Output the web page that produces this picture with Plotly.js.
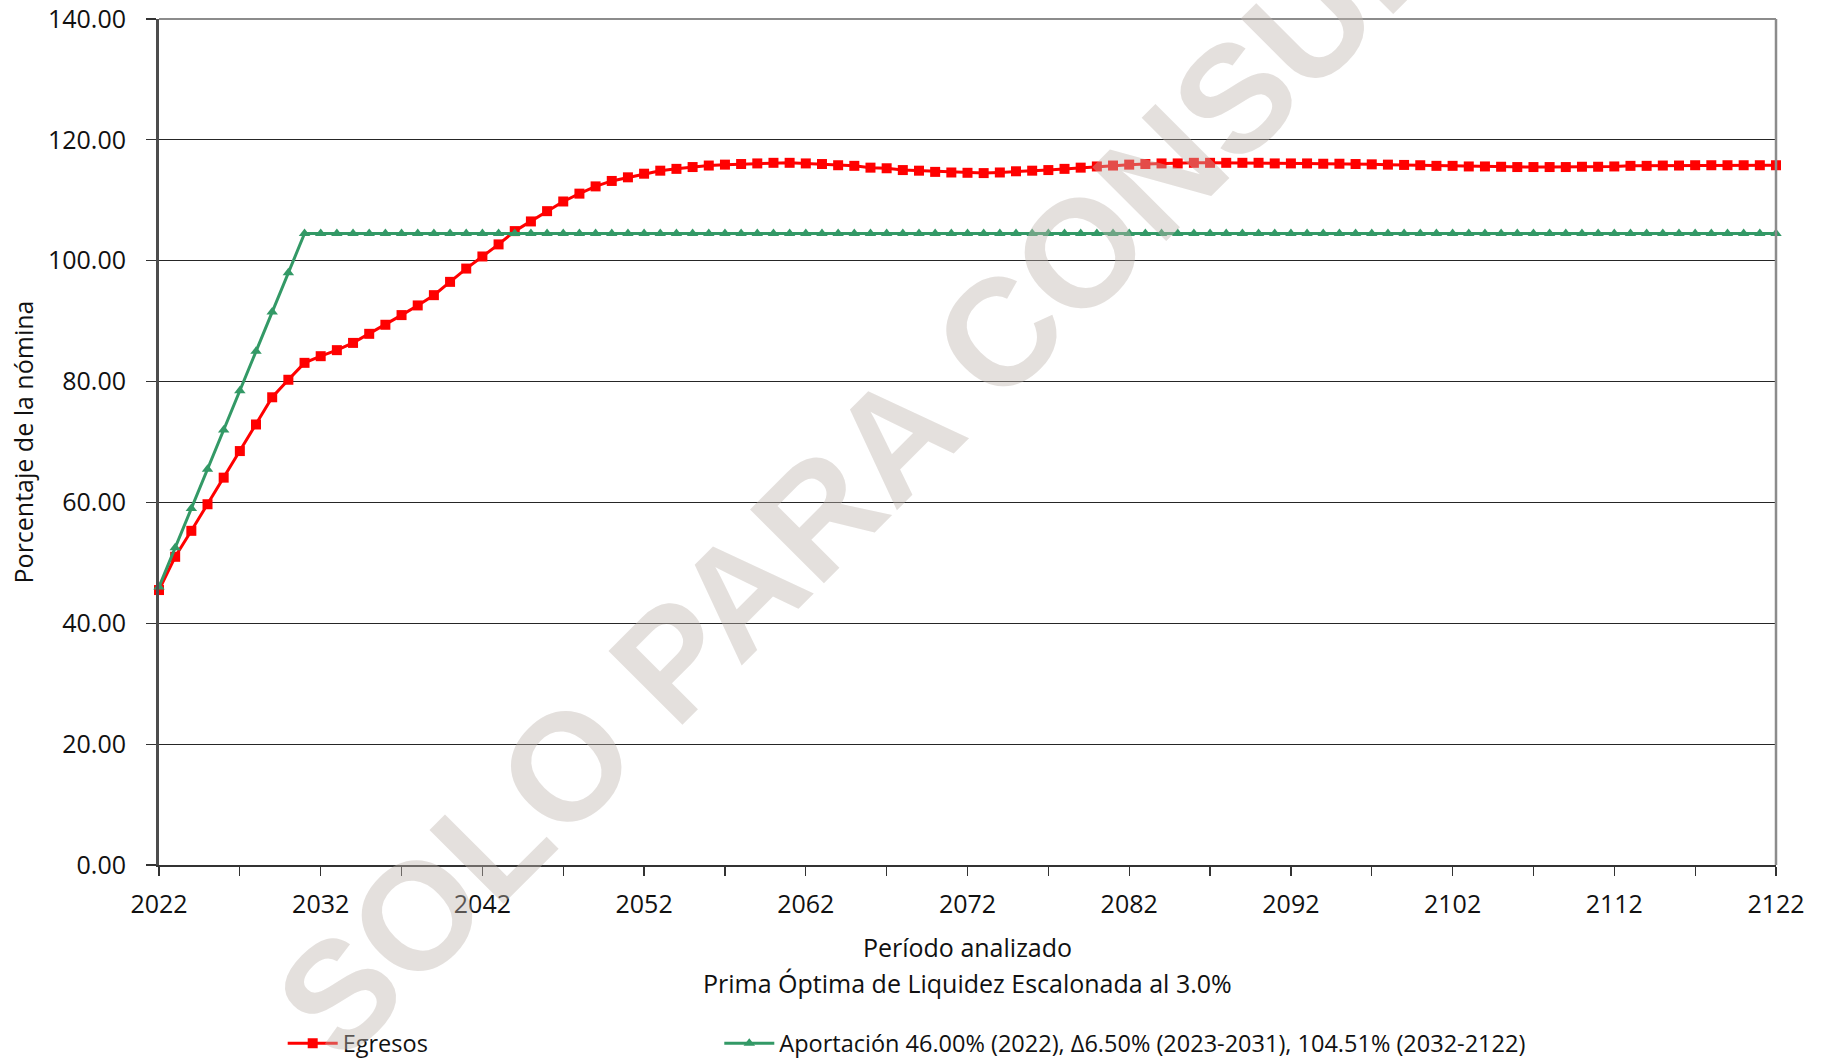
<!DOCTYPE html>
<html>
<head>
<meta charset="utf-8">
<script src="https://cdn.plot.ly/plotly-3.0.1.min.js"></script>
<style>html,body{margin:0;padding:0;background:#fff;}#chart{width:1829px;height:1062px;}</style>
</head>
<body>
<div id="chart"></div>
<script>
const years = [2022,2023,2024,2025,2026,2027,2028,2029,2030,2031,
  2032,2033,2034,2035,2036,2037,2038,2039,2040,2041,
  2042,2043,2044,2045,2046,2047,2048,2049,2050,2051,
  2052,2053,2054,2055,2056,2057,2058,2059,2060,2061,
  2062,2063,2064,2065,2066,2067,2068,2069,2070,2071,
  2072,2073,2074,2075,2076,2077,2078,2079,2080,2081,
  2082,2083,2084,2085,2086,2087,2088,2089,2090,2091,
  2092,2093,2094,2095,2096,2097,2098,2099,2100,2101,
  2102,2103,2104,2105,2106,2107,2108,2109,2110,2111,
  2112,2113,2114,2115,2116,2117,2118,2119,2120,2121,
  2122];

const egresos = [45.5,51.0,55.3,59.7,64.1,68.5,72.9,77.4,80.3,83.1,
  84.2,85.2,86.4,87.9,89.4,91.0,92.6,94.3,96.5,98.7,
  100.7,102.7,104.9,106.5,108.2,109.8,111.1,112.3,113.2,113.8,
  114.4,114.9,115.2,115.5,115.75,115.9,116.0,116.1,116.2,116.2,
  116.1,116.0,115.8,115.7,115.4,115.3,115.0,114.9,114.7,114.6,
  114.55,114.5,114.6,114.8,114.9,115.0,115.2,115.4,115.6,115.75,
  115.9,116.0,116.1,116.1,116.2,116.2,116.2,116.2,116.2,116.1,
  116.1,116.1,116.05,116.05,116.0,115.95,115.9,115.85,115.8,115.7,
  115.7,115.6,115.6,115.55,115.5,115.5,115.5,115.5,115.55,115.55,
  115.6,115.7,115.7,115.75,115.75,115.8,115.8,115.8,115.8,115.8,
  115.8];

const aportacion = [46.00,52.50,59.00,65.50,72.00,78.50,85.00,91.50,98.00,104.50,
  104.51,104.51,104.51,104.51,104.51,104.51,104.51,104.51,104.51,104.51,
  104.51,104.51,104.51,104.51,104.51,104.51,104.51,104.51,104.51,104.51,
  104.51,104.51,104.51,104.51,104.51,104.51,104.51,104.51,104.51,104.51,
  104.51,104.51,104.51,104.51,104.51,104.51,104.51,104.51,104.51,104.51,
  104.51,104.51,104.51,104.51,104.51,104.51,104.51,104.51,104.51,104.51,
  104.51,104.51,104.51,104.51,104.51,104.51,104.51,104.51,104.51,104.51,
  104.51,104.51,104.51,104.51,104.51,104.51,104.51,104.51,104.51,104.51,
  104.51,104.51,104.51,104.51,104.51,104.51,104.51,104.51,104.51,104.51,
  104.51,104.51,104.51,104.51,104.51,104.51,104.51,104.51,104.51,104.51,
  104.51];

const seriesNames = ['Egresos', 'Aportación 46.00% (2022), Δ6.50% (2023-2031), 104.51% (2032-2122)'];
const xTickVals = [2022,2032,2042,2052,2062,2072,2082,2092,2102,2112,2122];
const xTickText = ['2022','2032','2042','2052','2062','2072','2082','2092','2102','2112','2122'];
const yTickVals = [0,20,40,60,80,100,120,140];
const yTickText = ['0.00','20.00','40.00','60.00','80.00','100.00','120.00','140.00'];
const xTitle = 'Período analizado';
const xSubtitle = 'Prima Óptima de Liquidez Escalonada al 3.0%';
const yTitle = 'Porcentaje de la nómina';
const watermark = 'SOLO PARA CONSULTA';

const FONT = 'Open Sans, Noto Sans, sans-serif';
const TXT = '#111111';

const traces = [
  {
    x: years, y: egresos, name: seriesNames[0], type: 'scatter', mode: 'lines+markers',
    line: {color: '#ff0000', width: 3},
    marker: {symbol: 'square', size: 10, color: '#ff0000'},
    cliponaxis: false, legend: 'legend'
  },
  {
    x: years, y: aportacion, name: seriesNames[1], type: 'scatter', mode: 'lines+markers',
    line: {color: '#339966', width: 3},
    marker: {symbol: 'triangle-up', size: 10, color: '#339966'},
    cliponaxis: false, legend: 'legend2'
  }
];

const layout = {
  width: 1829, height: 1062,
  margin: {l: 159, r: 53, t: 19, b: 197, autoexpand: false},
  paper_bgcolor: '#ffffff', plot_bgcolor: '#ffffff',
  font: {family: FONT, color: TXT},
  showlegend: true,
  xaxis: {
    range: [2022, 2122], autorange: false,
    tickmode: 'array', tickvals: xTickVals, ticktext: xTickText,
    ticks: 'outside', ticklen: 9, tickwidth: 1.2, tickcolor: '#333',
    minor: {tick0: 2022, dtick: 5, ticks: 'outside', ticklen: 9, tickwidth: 1.2, tickcolor: '#333', showgrid: false},
    tickfont: {family: FONT, size: 25, color: TXT},
    ticklabelstandoff: 7,
    showline: true, linecolor: '#333', linewidth: 2,
    showgrid: false, zeroline: false, automargin: false,
    title: {text: xTitle, font: {family: FONT, size: 25, color: TXT}, standoff: 20}
  },
  yaxis: {
    range: [0, 140], autorange: false,
    tickmode: 'array', tickvals: yTickVals, ticktext: yTickText,
    ticks: 'outside', ticklen: 10, tickwidth: 1.2, tickcolor: '#333',
    tickfont: {family: FONT, size: 25, color: TXT},
    ticklabelstandoff: 15,
    showline: true, linecolor: '#4d4d4d', linewidth: 3,
    showgrid: true, gridcolor: '#262626', gridwidth: 1,
    zeroline: false, automargin: false,
    title: {text: yTitle, font: {family: FONT, size: 25, color: TXT}, standoff: 8}
  },
  shapes: [
    {type: 'line', xref: 'paper', yref: 'paper', x0: 0, x1: 1, y0: 1, y1: 1, line: {color: '#8c8c8c', width: 2}},
    {type: 'line', xref: 'paper', yref: 'paper', x0: 1, x1: 1, y0: 0, y1: 1, line: {color: '#8c8c8c', width: 2.5}}
  ],
  legend: {
    orientation: 'h', x: 0.0765, y: -0.237, xanchor: 'left', yanchor: 'bottom',
    font: {family: FONT, size: 23.5, color: TXT}, bgcolor: 'rgba(0,0,0,0)', itemwidth: 50
  },
  legend2: {
    orientation: 'h', x: 0.3465, y: -0.237, xanchor: 'left', yanchor: 'bottom',
    font: {family: FONT, size: 23.5, color: TXT}, bgcolor: 'rgba(0,0,0,0)', itemwidth: 50
  },
  annotations: [
    {
      text: xSubtitle, xref: 'paper', yref: 'paper', x: 0.5, y: -0.140,
      xanchor: 'center', yanchor: 'middle', showarrow: false,
      font: {family: FONT, size: 25, color: TXT}
    },
    {
      text: watermark, xref: 'paper', yref: 'paper', x: 0.472, y: 0.538,
      showarrow: false, textangle: -45,
      font: {family: 'Liberation Sans, Arial, sans-serif', size: 152, weight: 'bold', color: 'rgba(190,180,174,0.42)'}
    }
  ]
};

Plotly.newPlot('chart', traces, layout, {staticPlot: true, displayModeBar: false});
</script>
</body>
</html>
